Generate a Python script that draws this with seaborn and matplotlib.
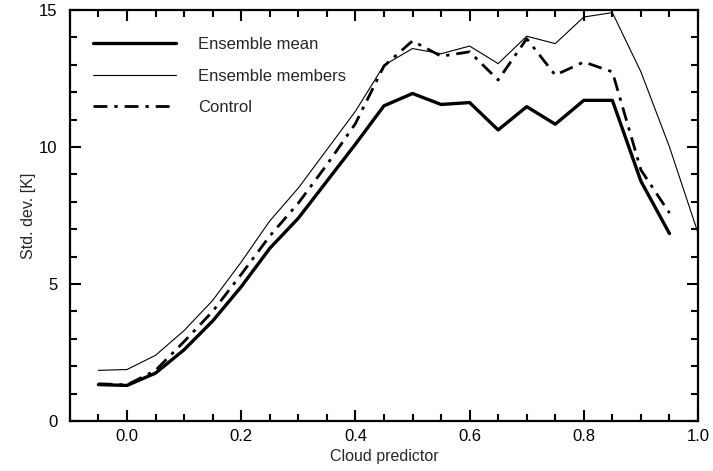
import matplotlib
matplotlib.use("Agg")
import matplotlib.pyplot as plt
import seaborn as sns
import pandas as pd
from matplotlib.ticker import MultipleLocator

sns.set_style("ticks")
plt.rcParams['font.family'] = ['Liberation Sans', 'DejaVu Sans']

x_mean = [-0.05, 0.0, 0.05, 0.10, 0.15, 0.20, 0.25, 0.30, 0.35, 0.40, 0.45,
          0.50, 0.55, 0.60, 0.65, 0.70, 0.75, 0.80, 0.85, 0.90, 0.95]
ens_mean = [1.33, 1.30, 1.75, 2.6, 3.65, 4.9, 6.3, 7.4, 8.75, 10.1, 11.5,
            11.95, 11.55, 11.62, 10.62, 11.47, 10.83, 11.7, 11.7, 8.75, 6.84]

x_members = [-0.05, 0.0, 0.05, 0.10, 0.15, 0.20, 0.25, 0.30, 0.35, 0.40, 0.45,
             0.50, 0.55, 0.60, 0.65, 0.70, 0.75, 0.80, 0.85, 0.90, 0.95, 1.00]
ens_members = [1.85, 1.88, 2.4, 3.3, 4.4, 5.8, 7.3, 8.5, 9.9, 11.3, 12.98,
               13.59, 13.4, 13.68, 13.04, 14.04, 13.77, 14.74, 14.9, 12.74, 10.0, 6.86]

x_control = x_mean
control = [1.36, 1.32, 1.85, 2.9, 4.0, 5.35, 6.75, 7.95, 9.35, 10.85, 12.95,
           13.87, 13.31, 13.47, 12.44, 13.95, 12.62, 13.1, 12.74, 9.16, 7.59]

x_ticks = [0.0, 0.2, 0.4, 0.6, 0.8, 1.0]
y_ticks = [0, 5, 10, 15]

fig = plt.figure(figsize=(7.13, 4.71), dpi=100)
ax = fig.add_axes([0.098, 0.106, 0.881, 0.873])

sns.lineplot(x=x_mean, y=ens_mean, ax=ax, color='black', lw=2.4,
             label='Ensemble mean')
sns.lineplot(x=x_members, y=ens_members, ax=ax, color='black', lw=0.8,
             label='Ensemble members')
sns.lineplot(x=x_control, y=control, ax=ax, color='black', lw=2.0,
             ls=(0, (5, 2.5, 1.2, 2.5)), label='Control')

ax.set_xlim(-0.1, 1.0)
ax.set_ylim(0, 15)
ax.set_xticks(x_ticks)
ax.set_xticklabels([f"{v:.1f}" for v in x_ticks])
ax.set_yticks(y_ticks)
ax.set_yticklabels([str(v) for v in y_ticks])
ax.xaxis.set_minor_locator(MultipleLocator(0.05))
ax.yaxis.set_minor_locator(MultipleLocator(1))
ax.tick_params(which='both', direction='in', top=True, right=True,
               width=1.5, labelsize=12, colors='black')
ax.tick_params(which='major', length=8)
ax.tick_params(axis='x', which='major', pad=6)
ax.tick_params(axis='y', which='major', pad=9)
ax.tick_params(which='minor', length=5)
for s in ax.spines.values():
    s.set_linewidth(1.6)
    s.set_color('black')

ax.set_xlabel('Cloud predictor', fontsize=11.5, labelpad=3)
ax.set_ylabel('Std. dev. [K]', fontsize=11.5, labelpad=2)

leg = ax.legend(loc='upper left', frameon=False, fontsize=12, handlelength=5.0,
                handletextpad=1.3, labelspacing=1.0, borderaxespad=0.6,
                bbox_to_anchor=(0.01, 0.975))

fig.savefig('out.png', dpi=100)
